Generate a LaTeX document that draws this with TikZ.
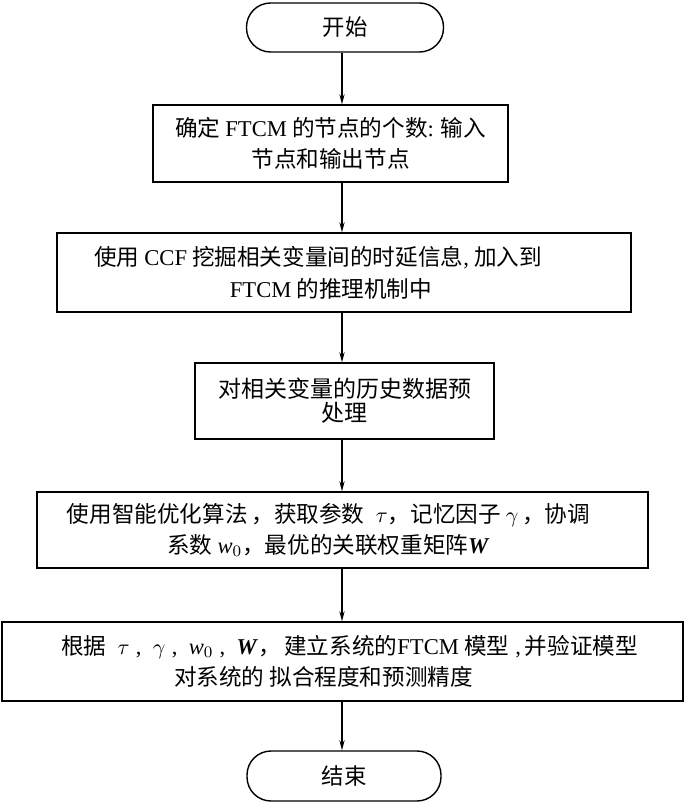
\documentclass[tikz,border=0pt]{standalone}
\usepackage{fontspec}
\setmainfont{Liberation Serif}
\newfontfamily\cjk{Noto Sans CJK SC}
\usetikzlibrary{arrows.meta}

\begin{document}
\begin{tikzpicture}[x=0.5pt,y=-0.5pt,
    terminal/.style={draw, line width=0.7pt, rounded corners=12pt, font={\cjk\fontsize{11.2pt}{15.5pt}\selectfont}},
    stepbox/.style={draw, line width=0.7pt, align=center, inner sep=0pt, font={\cjk\fontsize{11.3pt}{15.8pt}\selectfont}},
    flow/.style={line width=0.7pt, -{Stealth[length=5pt,width=2.6pt]}}]
    \useasboundingbox (0,0) rectangle (685,803);

    % Start terminal
    \node[terminal, minimum width=98.5pt, minimum height=24.5pt] (start) at (345,27.5) {开始};

    % Process steps
    \node[stepbox, minimum width=177.5pt, minimum height=38.5pt] (nodes) at (330.5,143.5)
        {确定 \textrm{FTCM} 的节点的个数\textrm{:} 输入\\节点和输出节点};
    \node[stepbox, minimum width=287pt, minimum height=39.5pt] (delay) at (344,272.5)
        {使用 \textrm{CCF} 挖掘相关变量间的时延信息\textrm{,} 加入到\hspace*{26pt}\\\textrm{FTCM} 的推理机制中\hspace*{13pt}};
    \node[stepbox, minimum width=149.5pt, minimum height=38pt,
          font={\cjk\fontsize{11.5pt}{12pt}\selectfont}] (prep) at (344.5,401)
        {对相关变量的历史数据预\\处理};
    \node[stepbox, minimum width=305.5pt, minimum height=38pt] (optim) at (342.5,530)
        {使用智能优化算法\,，获取参数\; $\tau$，记忆因子 $\gamma$\,，协调\hspace*{14pt}\\
         系数 \textrm{\textit{w}}$_0$，最优的关联权重矩阵\textrm{\textbf{\textit{W}}}\hspace*{14pt}};
    \node[stepbox, minimum width=340.5pt, minimum height=39.5pt] (model) at (342.5,661.5)
        {\hspace*{7pt}根据\; $\tau$\;\textrm{,}\; $\gamma$\;\textrm{,}\; \textrm{\textit{w}}$_0$\;\textrm{,}\; \textrm{\textbf{\textit{W}}}，\,建立系统的\textrm{FTCM} 模型\;\textrm{,}\,并验证模型\\
         对系统的 拟合程度和预测精度\hspace*{19pt}};

    % End terminal
    \node[terminal, minimum width=97pt, minimum height=25pt] (stop) at (344,776) {结束};

    % Flow line
    \coordinate (axis) at (342,0);
    \draw[flow] (axis |- start.south) -- (axis |- nodes.north);
    \draw[flow] (axis |- nodes.south) -- (axis |- delay.north);
    \draw[flow] (axis |- delay.south) -- (axis |- prep.north);
    \draw[flow] (axis |- prep.south) -- (axis |- optim.north);
    \draw[flow] (axis |- optim.south) -- (axis |- model.north);
    \draw[flow] (axis |- model.south) -- (axis |- stop.north);
\end{tikzpicture}
\end{document}
